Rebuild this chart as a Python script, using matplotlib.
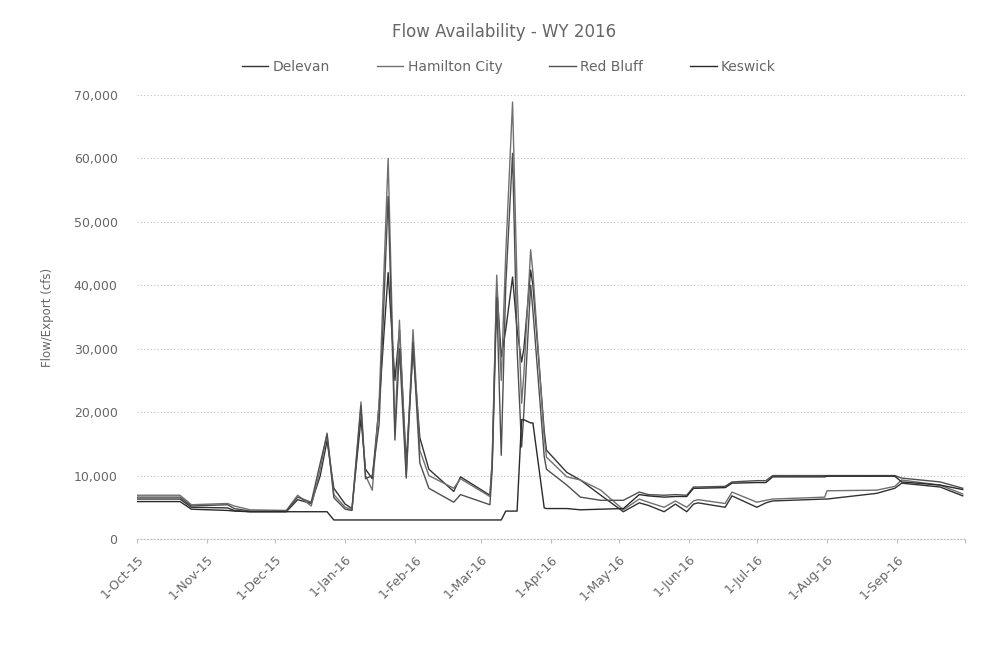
import matplotlib
matplotlib.use("Agg")
import matplotlib.pyplot as plt
import numpy as np
import pandas as pd

dates = ["2015-10-01", "2015-10-20", "2015-10-25", "2015-11-10", "2015-11-13", "2015-11-20",
         "2015-12-06", "2015-12-11", "2015-12-17", "2015-12-21", "2015-12-24", "2015-12-27",
         "2016-01-01", "2016-01-04", "2016-01-08", "2016-01-10", "2016-01-13", "2016-01-16",
         "2016-01-20", "2016-01-23", "2016-01-25", "2016-01-28", "2016-01-31", "2016-02-03",
         "2016-02-07", "2016-02-18", "2016-02-21", "2016-03-05", "2016-03-06", "2016-03-08",
         "2016-03-10", "2016-03-12", "2016-03-15", "2016-03-17", "2016-03-19", "2016-03-20",
         "2016-03-23", "2016-03-24", "2016-03-29", "2016-03-30", "2016-04-08", "2016-04-14",
         "2016-04-23", "2016-05-03", "2016-05-10", "2016-05-14", "2016-05-21", "2016-05-26",
         "2016-05-31", "2016-06-03", "2016-06-05", "2016-06-17", "2016-06-20", "2016-07-01",
         "2016-07-05", "2016-07-08", "2016-07-31", "2016-08-01", "2016-08-23", "2016-08-31",
         "2016-09-03", "2016-09-20", "2016-09-30"]

delevan = [6300, 6300, 5000, 4900, 4500, 4300,
           4300, 6200, 5600, 10000, 15500, 8000,
           5500, 4800, 19000, 11000, 9500, 21000,
           42000, 25000, 33000, 12000, 30000, 16000,
           11000, 7500, 9800, 6900, 12000, 40000,
           28700, 33000, 41300, 33000, 27900, 30000,
           42400, 40000, 17000, 14000, 10500, 9300,
           6900, 4300, 5700, 5300, 4300, 5500,
           4300, 5500, 5700, 5000, 6800, 5000,
           5700, 6000, 6300, 6300, 7200, 8000,
           8800, 8200, 6800]

hamilton = [6900, 6900, 5400, 5600, 5200, 4600,
            4500, 6900, 5200, 11000, 16700, 7000,
            5000, 4600, 21600, 10000, 7700, 21400,
            60000, 17000, 34500, 10000, 33000, 14000,
            10000, 8000, 9500, 6700, 12500, 41600,
            25000, 45000, 68900, 40000, 21400, 26000,
            45600, 42000, 16000, 12900, 9800, 9300,
            7700, 4600, 6300, 5800, 5000, 6000,
            5000, 6000, 6200, 5600, 7400, 5800,
            6100, 6300, 6600, 7600, 7700, 8300,
            9300, 8500, 7100]

redbluff = [6600, 6600, 5200, 5400, 4800, 4400,
            4400, 6600, 5800, 12000, 16500, 6500,
            4700, 4500, 21000, 9500, 10000, 18000,
            54000, 15600, 30000, 9600, 31000, 12000,
            8000, 5800, 7000, 5400, 11000, 38000,
            13200, 40000, 60800, 30000, 14500, 20000,
            40000, 36000, 13000, 11000, 8500, 6600,
            6100, 6100, 7400, 7000, 6900, 7000,
            6900, 8200, 8200, 8300, 9000, 9200,
            9200, 10000, 10000, 10000, 10000, 10000,
            9600, 9000, 8000]

keswick = [5900, 5900, 4700, 4500, 4400, 4300,
           4300, 4300, 4300, 4300, 4300, 3000,
           3000, 3000, 3000, 3000, 3000, 3000,
           3000, 3000, 3000, 3000, 3000, 3000,
           3000, 3000, 3000, 3000, 3000, 3000,
           3000, 4400, 4400, 4400, 18800, 18800,
           18300, 18300, 4900, 4800, 4800, 4600,
           4700, 4800, 7000, 6800, 6600, 6700,
           6700, 8000, 8000, 8100, 8800, 8900,
           8900, 9800, 9800, 9900, 9900, 9900,
           9000, 8500, 7800]

series_names = ["Delevan", "Hamilton City", "Red Bluff", "Keswick"]
series_vals = [delevan, hamilton, redbluff, keswick]
series_cols = ["#333333", "#707070", "#4f4f4f", "#2a2a2a"]

tick_dates = pd.date_range("2015-10-01", "2016-09-01", freq="MS")
tick_labels = [d.strftime("%-d-%b-%y") for d in tick_dates]

txt = "#666666"
plt.rcParams['font.family'] = ['DejaVu Sans']
fig = plt.figure(figsize=(9.88, 6.59), dpi=100)
ax = fig.add_axes([0.1387, 0.1821, 0.838, 0.6737])

x = pd.to_datetime(dates)
for name, vals, c in zip(series_names, series_vals, series_cols):
    ax.plot(x, vals, color=c, lw=1.0, label=name)

ax.set_xlim(pd.Timestamp("2015-10-01"), pd.Timestamp("2016-10-01"))
ax.set_ylim(0, 70000)
ax.set_yticks(np.arange(0, 70001, 10000))
ax.yaxis.set_major_formatter(matplotlib.ticker.FuncFormatter(lambda v, p: f"{int(v):,}"))
ax.set_xticks(list(tick_dates) + [pd.Timestamp("2016-10-01")])
ax.set_xticklabels(tick_labels + [""], rotation=45, ha="right", rotation_mode="anchor")

for s in ["top", "right", "left"]:
    ax.spines[s].set_visible(False)
ax.spines["bottom"].set_color("#bfbfbf")
ax.spines["bottom"].set_linestyle((0, (1, 2)))
ax.grid(axis="y", color="#bfbfbf", linestyle=(0, (1, 2)), lw=0.8)
ax.set_axisbelow(True)
ax.tick_params(axis="y", length=0, pad=14, labelsize=9, colors=txt)
ax.tick_params(axis="x", length=3, color="#bfbfbf", labelsize=9, colors=txt, pad=7)

ax.set_ylabel("Flow/Export (cfs)", fontsize=8.5, color=txt, labelpad=14)
fig.text(0.51, 0.951, "Flow Availability - WY 2016", ha="center", va="center",
         fontsize=12, color=txt)
leg = fig.legend(loc="center", bbox_to_anchor=(0.515, 0.898), ncol=4, frameon=False,
                 fontsize=10, handlelength=1.9, columnspacing=3.4, handletextpad=0.3)
for t in leg.get_texts():
    t.set_color(txt)

fig.savefig("out.png", dpi=100)
